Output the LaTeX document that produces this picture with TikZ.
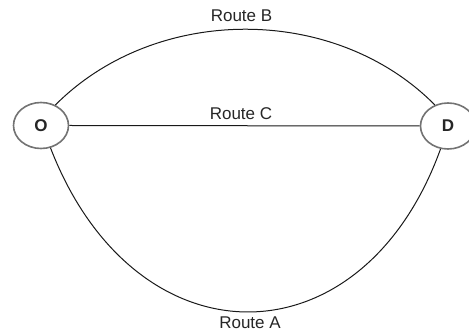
\documentclass[tikz,border=0pt]{standalone}
\usepackage{fontspec}
\setmainfont{Liberation Sans}
\usetikzlibrary{shapes.geometric}
\tikzset{
  place/.style={ellipse, draw=black!55, line width=1.6pt, fill=white, inner sep=0pt, minimum width=55pt, minimum height=46pt, font=\fontsize{17}{17}\selectfont\bfseries, text=black!85},
  route/.style={draw=black!90, line width=1pt},
  routelabel/.style={inner sep=0pt, font=\fontsize{17}{17}\selectfont, text=black!85}
}
\begin{document}
\begin{tikzpicture}[x=1pt, y=-1pt]
\useasboundingbox (0,0) rectangle (469,336);
\node[routelabel] (labB) at (241.5,16) {Route B};
\node[routelabel] (labC) at (241,113.5) {Route C};
\node[routelabel] (labA) at (250,323) {Route A};
\node[place] (O) at (41,125.5) {O};
\node[place] (D) at (448,126) {D};
\draw[route] (O.east) -- (D.west);
\draw[route] (O.55) .. controls (156,4) and (335,4) .. (D.122);
\draw[route] (O.-67) .. controls (135,366.5) and (362,366.5) .. (D.-108);
\end{tikzpicture}
\end{document}
